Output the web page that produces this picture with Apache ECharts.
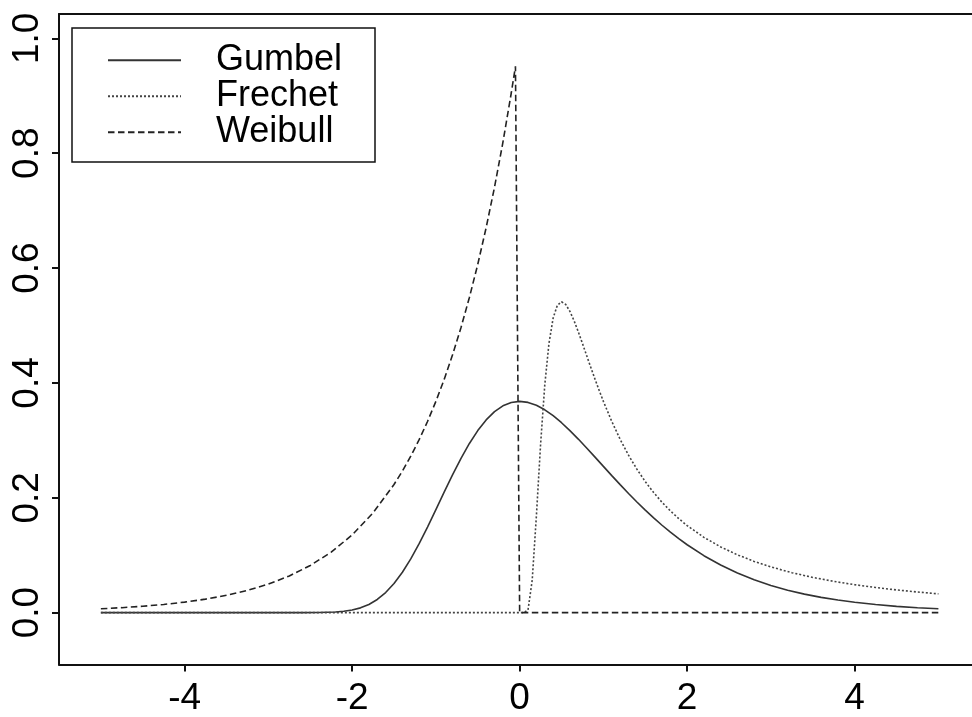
<!DOCTYPE html>
<html><head><meta charset="utf-8">
<script src="https://cdn.jsdelivr.net/npm/echarts@6/dist/echarts.min.js"></script>
<style>html,body{margin:0;padding:0;background:#fff}#c{width:972px;height:717px}</style>
</head><body><div id="c"></div>
<script>
const seriesNames = ['Gumbel', 'Frechet', 'Weibull'];

const gumbelX = [-5, -4, -3, -2.6, -2.4, -2.2, -2.1,
  -2.0, -1.9, -1.8, -1.7, -1.6, -1.5, -1.4, -1.3, -1.2, -1.1, -1.0, -0.9, -0.8, -0.7, -0.6, -0.5, -0.4, -0.3, -0.2, -0.1,
  0,
  0.1, 0.2, 0.3, 0.4, 0.5, 0.6, 0.7, 0.8, 0.9, 1.0, 1.1, 1.2, 1.3, 1.4, 1.5, 1.6, 1.7, 1.8, 1.9, 2.0,
  2.2, 2.4, 2.6, 2.8, 3.0, 3.2, 3.4, 3.6, 3.8, 4.0,
  4.25, 4.5, 4.75, 5.0];
const gumbelY = [0, 0, 0, 0.00002, 0.00018, 0.00109, 0.00232,
  0.00457, 0.00834, 0.01426, 0.02296, 0.03496, 0.05071, 0.07031, 0.0936, 0.12003, 0.14894, 0.17938, 0.21021, 0.24033, 0.2688, 0.29462, 0.31705, 0.33557, 0.35, 0.36007, 0.36598,
  0.36788,
  0.36611, 0.36107, 0.35318, 0.3429, 0.33071, 0.31702, 0.30223, 0.2867, 0.27075, 0.25465, 0.23862, 0.22287, 0.20752, 0.19271, 0.17851, 0.16499, 0.15218, 0.14011, 0.12879, 0.11821,
  0.09918, 0.08285, 0.06896, 0.05722, 0.04737, 0.03913, 0.03228, 0.02659, 0.02188, 0.01798,
  0.01406, 0.01099, 0.00858, 0.00669];

const frechetX = [-5, 0, 0.05,
  0.1, 0.15, 0.2, 0.25, 0.3, 0.35, 0.4, 0.45, 0.5, 0.55, 0.6, 0.65, 0.7, 0.75, 0.8, 0.85, 0.9, 0.95, 1.0,
  1.1, 1.2, 1.3, 1.4, 1.5, 1.6, 1.7, 1.8, 1.9, 2.0,
  2.2, 2.4, 2.6, 2.8, 3.0,
  3.25, 3.5, 3.75, 4.0, 4.25, 4.5, 4.75, 5.0];
const frechetY = [0, 0, 0,
  0.00454, 0.05656, 0.16845, 0.29305, 0.39638, 0.46884, 0.51303, 0.53511, 0.54134, 0.53664, 0.52467, 0.50818, 0.48908, 0.46862, 0.44766, 0.42682, 0.40641, 0.38671, 0.36788,
  0.33297, 0.30181, 0.27419, 0.24977, 0.22819, 0.20908, 0.19215, 0.17708, 0.16365, 0.15163,
  0.13115, 0.11445, 0.1007, 0.08924, 0.07961,
  0.0696, 0.06135, 0.05447, 0.04868, 0.04376, 0.03954, 0.03591, 0.03275];

const weibullX = [-5, -4.75, -4.5, -4.25, -4, -3.75, -3.5, -3.25, -3, -2.75, -2.5, -2.25, -2, -1.75, -1.5,
  -1.4, -1.3, -1.2, -1.1, -1.0, -0.9, -0.8, -0.7, -0.6, -0.5, -0.4, -0.3, -0.2, -0.1,
  -0.05, 0, 5];
const weibullY = [0.00674, 0.00865, 0.01111, 0.01426, 0.01832, 0.02352, 0.0302, 0.03877, 0.04979, 0.06393, 0.08208, 0.1054, 0.13534, 0.17377, 0.22313,
  0.2466, 0.27253, 0.30119, 0.33287, 0.36788, 0.40657, 0.44933, 0.49659, 0.54881, 0.60653, 0.67032, 0.74082, 0.81873, 0.90484,
  0.95123, 0, 0];

const xTicks = [-4, -2, 0, 2, 4];
const yTicks = [0, 0.2, 0.4, 0.6, 0.8, 1.0];

function pairs(xs, ys) { return xs.map((x, i) => [x, ys[i]]); }

const FONT = "'Liberation Sans', Arial, Helvetica, sans-serif";
const chart = echarts.init(document.getElementById('c'), null, { renderer: 'canvas' });

const axisLineStyle = { color: '#111', width: 2 };

const option = {
  animation: false,
  backgroundColor: '#ffffff',
  grid: { left: 59, top: 14, right: 0, bottom: 47, show: false, containLabel: false },
  xAxis: [{
    type: 'value', position: 'bottom', min: -5.5, max: 5.401,
    axisLine: { show: true, onZero: false, lineStyle: axisLineStyle },
    axisTick: { show: true, customValues: xTicks, length: 7, lineStyle: axisLineStyle },
    axisLabel: { customValues: xTicks, fontSize: 37, fontFamily: FONT, color: '#000', margin: 34, verticalAlign: 'middle',
      formatter: v => String(v) },
    splitLine: { show: false }
  }, {
    type: 'value', position: 'top', min: -5.5, max: 5.401,
    axisLine: { show: true, onZero: false, lineStyle: axisLineStyle },
    axisTick: { show: false }, axisLabel: { show: false }, splitLine: { show: false }
  }],
  yAxis: {
    type: 'value', min: -0.0903, max: 1.0424,
    axisLine: { show: true, onZero: false, lineStyle: axisLineStyle },
    axisTick: { show: true, customValues: yTicks, length: 7, lineStyle: axisLineStyle },
    axisLabel: { customValues: yTicks, fontSize: 37, fontFamily: FONT, color: '#000', margin: 31, rotate: 90,
      align: 'center', verticalAlign: 'middle', formatter: v => v.toFixed(1) },
    splitLine: { show: false }
  },
  legend: {
    orient: 'vertical', left: 107, top: 42.25, padding: 0,
    itemWidth: 73, itemHeight: 14, itemGap: 0,
    itemStyle: { opacity: 0 },
    textStyle: { fontSize: 36, fontFamily: FONT, color: '#000', lineHeight: 33.5, padding: [0, 0, 0, 30] },
    data: seriesNames
  },
  graphic: [{
    type: 'rect', z: 100, silent: true,
    shape: { x: 72, y: 28, width: 303, height: 134 },
    style: { fill: 'none', stroke: '#111', lineWidth: 1.5 }
  }],
  series: [
    { type: 'line', name: seriesNames[0], data: pairs(gumbelX, gumbelY), symbol: 'none', showSymbol: false, smooth: false,
      lineStyle: { color: '#333', width: 1.6, type: 'solid' }, itemStyle: { color: '#333' } },
    { type: 'line', name: seriesNames[1], data: pairs(frechetX, frechetY), symbol: 'none', showSymbol: false, smooth: false,
      lineStyle: { color: '#444', width: 1.6, type: [2, 2] }, itemStyle: { color: '#444' } },
    { type: 'line', name: seriesNames[2], data: pairs(weibullX, weibullY), symbol: 'none', showSymbol: false, smooth: false,
      lineStyle: { color: '#222', width: 1.6, type: [6.5, 3.5] }, itemStyle: { color: '#222' } }
  ]
};
chart.setOption(option);
</script>
</body></html>
